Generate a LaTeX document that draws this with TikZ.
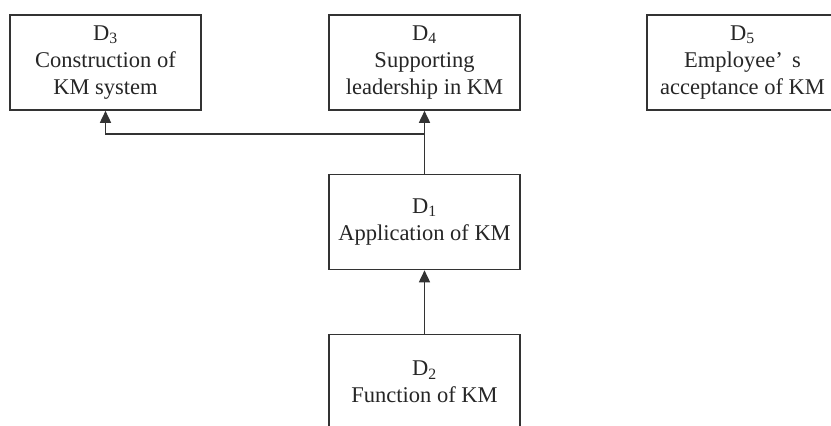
\documentclass[tikz,border=0pt]{standalone}
\usepackage{fontspec}
\setmainfont{Liberation Serif}
\usetikzlibrary{arrows.meta , positioning}

\tikzset{
    kmbox/.style = {draw = black!80 , line width = 1.6pt , minimum width = 191pt , minimum height = 95pt ,
        inner sep = 0pt , align = center , text = black!85 , font = \fontsize{22.5}{27}\selectfont},
    kmarrow/.style = {draw = black!80 , line width = 1.6pt , -{Triangle[width = 11pt , length = 12pt]}}
}

\begin{document}
\begin{tikzpicture}[x = 1pt , y = -1pt]
    \fill[white] (0,0) rectangle (831,426);
    \useasboundingbox (0,0) rectangle (831,426);
    \begin{scope}
    \clip (0,0) rectangle (831,426);
    \node[kmbox] (d3) at (105.5,62.5) {D\textsubscript{3}\\Construction of\\KM system};
    \node[kmbox] (d4) at (424.5,62.5) {D\textsubscript{4}\\Supporting\\leadership in KM};
    \node[kmbox] (d5) at (742.5,62.5) {D\textsubscript{5}\\Employee’\,\ s\\acceptance of KM};
    \node[kmbox] (d1) at (424.5,222) {D\textsubscript{1}\\Application of KM};
    \node[kmbox] (d2) at (424.5,382) {D\textsubscript{2}\\Function of KM};
    \coordinate (split) at (424.5,134); % Verzweigung
    \draw[kmarrow] (d2) -- (d1);
    \draw[kmarrow] (d1) -- (d4);
    \draw[kmarrow] (split) -| (d3);
    \end{scope}
\end{tikzpicture}
\end{document}
